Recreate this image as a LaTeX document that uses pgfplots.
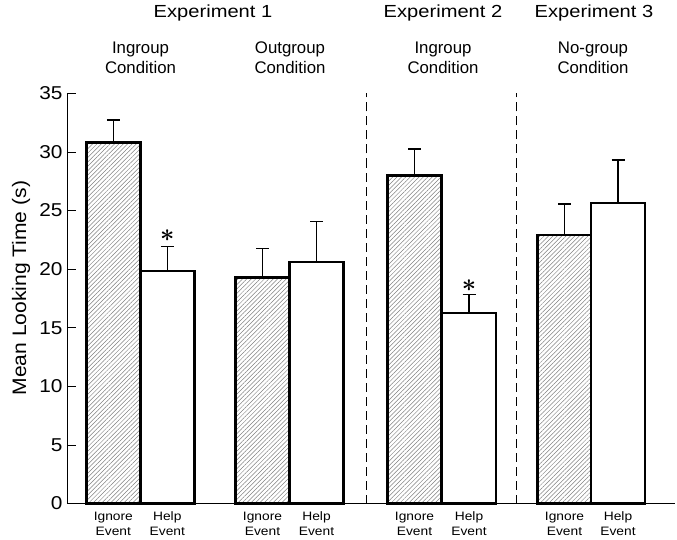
\documentclass[border=0pt]{standalone}
\usepackage{fontspec}
\setmainfont{Liberation Sans}
\newfontfamily\fTitle[FakeStretch=1.15]{Liberation Sans}
\newfontfamily\fTick[FakeStretch=1.12]{Liberation Sans}
\newfontfamily\fEv[FakeStretch=1.13]{Liberation Sans}
\newfontfamily\fLab[FakeStretch=1.08]{Liberation Sans}
\usepackage{pgfplots}
\pgfplotsset{compat=1.18}
\usetikzlibrary{patterns.meta}
\newcommand{\bast}{\mbox{\boldmath$\ast$}}
\tikzset{
  ev/.style={anchor=base, font=\fEv\fontsize{12.2}{14}\selectfont},
  cond/.style={anchor=base, font=\fontsize{16.8}{20}\selectfont},
  expt/.style={anchor=base, font=\fTitle\fontsize{17.5}{18}\selectfont},
  star/.style={font=\fontsize{23}{23}\selectfont},
}
\begin{document}
\begin{tikzpicture}[x=1pt,y=1pt]
\path[use as bounding box] (0,0) rectangle (677,539);
\begin{axis}[
  at={(67pt,35.5pt)}, anchor=south west,
  scale only axis, width=608pt, height=410.2pt,
  xmin=67, xmax=675, ymin=0, ymax=35,
  axis lines*=left,
  axis line style={line width=0.8pt, black},
  xtick=\empty,
  ytick={0,5,...,35},
  tick align=inside, major tick length=9pt,
  ytick style={line width=0.8pt,black},
  yticklabel style={font=\fTick\fontsize{18.6}{18.6}\selectfont, xshift=-1pt},
  /pgf/number format/assume math mode=true,
  ylabel={Mean Looking Time (s)},
  every axis y label/.style={at={(rel axis cs:0,0.525)}, xshift=-46pt, rotate=90, anchor=center, font=\fLab\fontsize{19.5}{19.5}\selectfont},
  clip=false,
]
\addplot[ybar, bar shift=0pt, bar width=54, draw=black, line width=2.4pt,
  pattern={Lines[angle=45,distance=3.1pt,line width=0.5pt]}, pattern color=gray,
  error bars/.cd, y dir=plus, y explicit,
  error bar style={line width=1.2pt, black},
  error mark options={line width=1.2pt, mark size=6.5pt, rotate=90}]
coordinates {(113.3,30.8) +- (0,1.92) (262.5,19.3) +- (0,2.44) (414.5,27.97) +- (0,2.28) (564.5,22.91) +- (0,2.64)};
\addplot[ybar, bar shift=0pt, bar width=54, draw=black, line width=2.4pt, fill=white,
  error bars/.cd, y dir=plus, y explicit,
  error bar style={line width=1.2pt, black},
  error mark options={line width=1.2pt, mark size=6.5pt, rotate=90}]
coordinates {(167.3,19.84) +- (0,2.07) (316.5,20.6) +- (0,3.48) (469,16.28) +- (0,1.57) (618,25.64) +- (0,3.67)};
\addplot[black, line width=0.9pt, dash pattern=on 9pt off 5pt] coordinates {(366,0) (366,35)};
\addplot[black, line width=0.9pt, dash pattern=on 9pt off 5pt] coordinates {(516,0) (516,35)};
\node[star] at (axis cs:167.3,22.85) {\bast};
\node[star] at (axis cs:469,18.6) {\bast};
\node[expt] at (axis cs:213,41.48) {Experiment 1};
\node[expt] at (axis cs:443,41.48) {Experiment 2};
\node[expt] at (axis cs:594,41.48) {Experiment 3};
\node[cond] at (axis cs:140.5,38.41) {Ingroup};
\node[cond] at (axis cs:140.5,36.65) {Condition};
\node[cond] at (axis cs:290,38.41) {Outgroup};
\node[cond] at (axis cs:290,36.65) {Condition};
\node[cond] at (axis cs:443,38.41) {Ingroup};
\node[cond] at (axis cs:443,36.65) {Condition};
\node[cond] at (axis cs:593,38.41) {No-group};
\node[cond] at (axis cs:593,36.65) {Condition};
\node[ev] at (axis cs:113.3,-1.49) {Ignore};
\node[ev] at (axis cs:113.3,-2.69) {Event};
\node[ev] at (axis cs:262.5,-1.49) {Ignore};
\node[ev] at (axis cs:262.5,-2.69) {Event};
\node[ev] at (axis cs:414.5,-1.49) {Ignore};
\node[ev] at (axis cs:414.5,-2.69) {Event};
\node[ev] at (axis cs:564.5,-1.49) {Ignore};
\node[ev] at (axis cs:564.5,-2.69) {Event};
\node[ev] at (axis cs:167.3,-1.49) {Help};
\node[ev] at (axis cs:167.3,-2.69) {Event};
\node[ev] at (axis cs:316.5,-1.49) {Help};
\node[ev] at (axis cs:316.5,-2.69) {Event};
\node[ev] at (axis cs:469,-1.49) {Help};
\node[ev] at (axis cs:469,-2.69) {Event};
\node[ev] at (axis cs:618,-1.49) {Help};
\node[ev] at (axis cs:618,-2.69) {Event};
\end{axis}
\end{tikzpicture}
\end{document}
